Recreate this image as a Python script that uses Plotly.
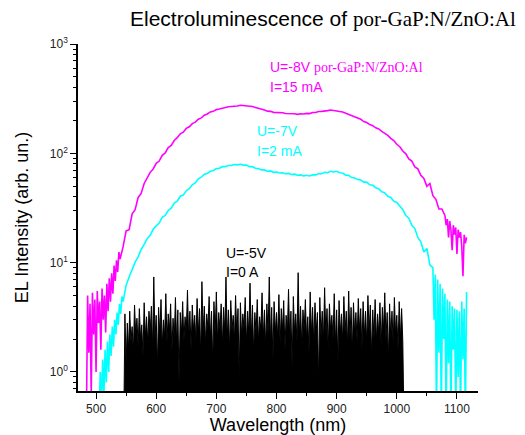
import plotly.graph_objects as go

# sampled spectra, read off the reference picture
# (2 nm steps where the signal is noisy, 5 nm steps elsewhere)
wl_8v = list(range(484, 541, 2)) + list(range(545, 1080, 5)) + list(range(1080, 1117, 2))
el_8v = [0.4, 5.0, 1.5, 4.2, 0.6, 5.3, 2.2, 4.6, 1.0, 5.5,           # 484-502
         2.8, 4.4, 1.6, 5.8, 3.0, 5.0, 2.3, 6.4, 3.6, 7.2,           # 504-522
         4.4, 8.0, 5.2, 9.4, 6.8, 10.5, 8.2, 12.5, 10.8,             # 524-540
         14, 19.5, 20, 28, 30.5, 39.5, 43, 53,                       # 545-580
         59, 67, 72, 81, 85, 96, 101, 113, 118, 131,                 # 585-630
         139, 151, 156, 169, 175, 187, 193, 205, 211, 223,           # 635-680
         229, 239, 242, 251, 254, 260, 262, 267, 267, 271,           # 685-730
         271, 275, 273, 275, 271, 268, 263, 259, 251, 249,           # 735-780
         243, 242, 237, 237, 234, 235, 231, 231, 228, 230,           # 785-830
         227, 230, 229, 232, 231, 236, 236, 241, 242, 246,           # 835-880
         246, 249, 245, 245, 241, 239, 233, 229, 221, 217,           # 885-930
         209, 205, 195, 191, 183, 179, 171, 167, 159, 153,           # 935-980
         146, 137, 131, 121, 115, 105, 99, 89, 85, 75,               # 985-1030
         72, 63, 59, 50, 53, 41, 38, 31, 31,                         # 1035-1075
         27, 22, 25, 17, 24, 20, 13, 22, 18, 21,                     # 1080-1098
         12, 20, 17, 19, 14, 7.5, 18, 15, 17]                        # 1100-1116

wl_7v = list(range(505, 547, 2)) + list(range(550, 1060, 5)) + list(range(1060, 1117, 2))
el_7v = [0.4, 1.0, 0.5, 1.3, 0.6, 1.6, 0.8, 1.9, 1.0, 2.2,                      # 505-523
         1.4, 2.6, 1.7, 3.0, 2.2, 3.5, 2.7, 4.2, 3.4, 4.9, 4.4,                  # 525-545
         6.2,                                                                    # 550
         7.4, 8.8, 10.1, 11.3, 13.2, 14.7, 16.6, 17.8, 20.2, 21.7,               # 555-600
         23.0, 26.0, 27.0, 30.0, 31.5, 35.0, 36.5, 40.5, 41.5, 45.5,             # 605-650
         47.5, 51.5, 53.5, 58.5, 60.5, 64.5, 65.5, 68.5, 69.5, 72.5,             # 655-700
         73.0, 75.5, 75.5, 77.5, 77.5, 79.0, 78.5, 79.5, 78.0, 78.0,             # 705-750
         75.5, 75.5, 73.0, 72.5, 70.5, 70.5, 68.5, 69.0, 67.0, 67.5,             # 755-800
         66.0, 66.5, 65.0, 65.5, 64.0, 64.5, 63.0, 63.5, 62.0, 63.0,             # 805-850
         62.0, 63.5, 63.5, 65.0, 65.0, 67.0, 66.5, 68.5, 67.5, 68.5,             # 855-900
         66.5, 66.0, 63.0, 63.0, 60.0, 59.5, 57.5, 57.0, 54.5, 54.5,             # 905-950
         51.5, 51.0, 48.5, 47.5, 44.5, 43.5, 40.5, 39.5, 36.5, 35.5,             # 955-1000
         32.5, 30.5, 27.0, 25.5, 22.0, 20.5, 17.0, 15.5, 12.5, 13.5,             # 1005-1050
         9.5,                                                                    # 1055
         9.0, 3.0, 7.8, 0.4, 7.0, 1.5, 6.4, 0.4, 5.8, 2.0,                       # 1060-1078
         5.2, 0.4, 4.6, 1.2, 4.4, 0.4, 4.0, 1.6, 3.8, 0.4,                       # 1080-1098
         3.7, 0.9, 3.6, 0.4, 4.4, 1.3, 3.8, 0.4, 5.4]                            # 1100-1116

wl_5v = list(range(546, 1015, 2))
el_5v = [0.3, 3.4, 1.2, 2.8, 1.6, 3.6, 1.9, 2.6, 1.5, 4.1, 2.2, 3.1, 1.7, 3.8, 2.0, 2.7, 1.4, 4.3, 2.1, 3.2,
         1.8, 3.6, 2.3, 4.0, 1.6, 7.4, 2.0, 3.3, 1.1, 3.9, 2.2, 4.6, 1.7, 3.0, 2.1, 5.2, 1.9, 3.4, 2.4, 4.2,
         1.5, 3.1, 2.0, 4.8, 1.8, 3.7, 0.8, 3.5, 2.2, 4.4, 1.9, 3.2, 2.3, 5.6, 2.0, 3.6, 1.6, 4.1, 2.4, 3.3,
         1.9, 4.7, 2.2, 3.8, 1.4, 6.7, 2.3, 4.0, 1.8, 3.4, 2.5, 4.9, 2.0, 3.6, 1.2, 4.4, 2.2, 5.4, 1.9, 3.5,
         2.4, 4.2, 1.7, 3.9, 2.3, 7.4, 2.0, 3.7, 1.6, 4.5, 2.4, 3.3, 1.9, 5.0, 2.2, 3.8, 0.9, 4.3, 2.1, 3.4,
         2.5, 4.8, 1.8, 3.6, 2.2, 6.5, 2.0, 4.1, 1.5, 3.5, 2.3, 4.6, 1.9, 3.2, 2.4, 5.3, 2.0, 3.7, 1.7, 4.2,
         2.2, 7.4, 1.9, 3.9, 1.3, 4.4, 2.3, 3.5, 2.0, 5.1, 1.8, 3.8, 2.4, 4.5, 1.6, 3.3, 2.2, 5.7, 2.0, 3.6,
         1.1, 4.9, 2.3, 3.4, 1.9, 8.1, 2.1, 4.0, 1.7, 3.7, 2.4, 4.6, 2.0, 3.2, 1.5, 5.4, 2.2, 3.9, 1.8, 4.3,
         2.3, 3.5, 0.8, 4.8, 2.1, 3.6, 1.9, 5.9, 2.2, 3.8, 1.6, 4.2, 2.4, 3.3, 2.0, 5.2, 1.8, 3.7, 1.2, 4.5,
         2.2, 3.4, 1.9, 4.9, 2.3, 3.6, 1.7, 5.5, 2.0, 3.9, 1.5, 4.3, 2.2, 3.5, 1.9, 4.7, 2.4, 3.8, 1.6, 4.4,
         2.1, 3.6, 1.8, 5.0, 2.3, 4.1, 1.4, 3.7, 2.0, 4.6, 1.9, 3.4, 2.2, 4.3, 1.7, 3.9, 2.4, 5.3, 2.0, 3.5,
         1.3, 4.2, 2.1, 3.6, 1.8, 4.8, 2.2, 3.3, 1.6, 4.4, 2.0, 3.8, 1.9, 0.3]

x_ticks = [500, 600, 700, 800, 900, 1000, 1100]
x_minor = [550, 650, 750, 850, 950, 1050]
y_ticks = [1, 10, 100, 1000]
y_tick_text = ["10<sup>0</sup>", "10<sup>1</sup>", "10<sup>2</sup>", "10<sup>3</sup>"]
y_minor = [0.7, 0.8, 0.9, 2, 3, 4, 5, 6, 7, 8, 9, 20, 30, 40, 50, 60, 70, 80, 90,
           200, 300, 400, 500, 600, 700, 800, 900]

SANS = "Arial, Liberation Sans, sans-serif"
SERIF_SPAN = '<span style="font-family:Liberation Serif, Times New Roman, serif">por-GaP:N/ZnO:Al</span>'

fig = go.Figure()
fig.add_trace(go.Scatter(x=wl_8v, y=el_8v, mode="lines", line=dict(color="#ff00ff", width=1.6)))
fig.add_trace(go.Scatter(x=wl_7v, y=el_7v, mode="lines", line=dict(color="#00ffff", width=1.6)))
fig.add_trace(go.Scatter(x=wl_5v, y=el_5v, mode="lines", line=dict(color="black", width=1),
                         fill="tozeroy", fillcolor="black"))

# the page body adds an 8 px margin, so the figure is 8 px smaller than the window
# and the plot area still sits at page x 78..478, y 44..391


def note(txt, px, py, color, size=14):
    # px, py: pixel position on the page
    fig.add_annotation(text=txt, xref="paper", yref="paper",
                       x=(px - 78) / 400, y=(391 - py) / 347,
                       xanchor="left", yanchor="middle", showarrow=False,
                       font=dict(family=SANS, size=size, color=color))


note("U=-8V " + SERIF_SPAN, 268, 67, "#ff00ff")
note("I=15 mA", 268, 87, "#ff00ff")
note("U=-7V", 255, 131, "#00ffff")
note("I=2 mA", 255, 151, "#00ffff")
note("U=-5V", 224, 253, "black")
note("I=0 A", 224, 272, "black")
note("Electroluminescence of " + SERIF_SPAN, 128, 19, "black", size=21)

fig.update_layout(
    width=517, height=427,
    margin=dict(l=70, r=47, t=36, b=44),
    paper_bgcolor="white", plot_bgcolor="white",
    showlegend=False,
    font=dict(family=SANS, size=12, color="#222"),
    xaxis=dict(range=[470, 1135], tickvals=x_ticks, ticks="outside", ticklen=6,
               tickwidth=1, tickcolor="black", showline=True, linecolor="black", linewidth=1.5,
               showgrid=False, zeroline=False, automargin=False,
               minor=dict(tickvals=x_minor, ticks="outside", ticklen=3, tickcolor="black"),
               title=dict(text="Wavelength (nm)", font=dict(size=18, color="black"), standoff=6)),
    yaxis=dict(type="log", range=[-0.174, 3], tickvals=y_ticks, ticktext=y_tick_text,
               ticks="outside", ticklen=6, tickwidth=1, tickcolor="black",
               showline=True, linecolor="black", linewidth=1.5, showgrid=False, zeroline=False,
               automargin=False,
               minor=dict(tickvals=y_minor, ticks="outside", ticklen=3, tickcolor="black"),
               title=dict(text="EL Intensity (arb. un.)", font=dict(size=18, color="black"), standoff=17)),
)

fig.write_html("out.html")
